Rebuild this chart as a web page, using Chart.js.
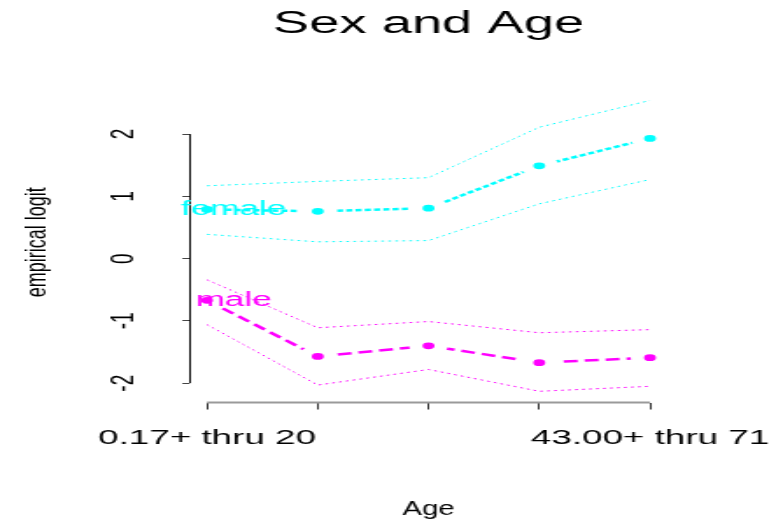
<!DOCTYPE html>
<html>
<head>
<meta charset="utf-8">
<title>Sex and Age</title>
<script src="https://cdn.jsdelivr.net/npm/chart.js@4/dist/chart.umd.min.js"></script>
<style>
  html, body { margin: 0; padding: 0; background: #fff; overflow: hidden; }
  canvas { display: block; }
</style>
</head>
<body>
<canvas id="chart" width="439" height="519" style="width:769px;height:519px"></canvas>
<script>
// ---- data -------------------------------------------------------------
const agePositions  = [1, 2, 3, 4, 5];
const ageTickLabels = ["0.17+ thru 20", "", "", "", "43.00+ thru 71"];
const yTicks        = [-2, -1, 0, 1, 2];

const female      = [0.79, 0.76, 0.81, 1.49, 1.93];
const femaleUpper = [1.17, 1.24, 1.30, 2.11, 2.54];
const femaleLower = [0.39, 0.27, 0.29, 0.88, 1.27];

const male      = [-0.67, -1.57, -1.40, -1.67, -1.59];
const maleUpper = [-0.34, -1.11, -1.01, -1.19, -1.14];
const maleLower = [-1.06, -2.03, -1.78, -2.13, -2.05];

const seriesNames = ["female", "male"];
const labelAt = 1.24;   // x position (axis units) of the series names
const xTitle = "Age";
const yTitle = "empirical logit";

// ---- look -------------------------------------------------------------
const CYAN = "#00ffff";
const MAGENTA = "#ff00ff";
const S = 769 / 439;            // the canvas is drawn narrow and shown wide
const px = v => v / S;          // page pixels -> canvas pixels (horizontal)
const FONT = '"Liberation Sans", Arial, Helvetica, sans-serif';

Chart.defaults.font.family = FONT;
Chart.defaults.color = "#000";

const pts = vals => vals.map((v, i) => ({ x: agePositions[i], y: v }));

function band(vals, color) {
  return {
    data: pts(vals), borderColor: color, borderWidth: 1,
    borderDash: [1.5, 2.5], pointRadius: 0, pointHoverRadius: 0,
    fill: false, tension: 0
  };
}
function centre(vals, color, dash) {
  return {
    data: pts(vals), borderColor: color, borderWidth: 2.5, borderDash: dash,
    pointStyle: "circle", pointRadius: 7.2, pointHoverRadius: 7.2,
    pointBorderWidth: 7.6, pointHoverBorderWidth: 7.6,
    pointBackgroundColor: color, pointBorderColor: "#fff",
    fill: false, tension: 0
  };
}

// axis titles use a milder horizontal stretch than the canvas as a whole
function stretchedText(ctx, text, x, y, size, widen, rotate) {
  ctx.save();
  ctx.translate(x, y);
  ctx.scale(widen / S, 1);
  if (rotate) ctx.rotate(-Math.PI / 2);
  ctx.font = size + "px " + FONT;
  ctx.fillStyle = "#000";
  ctx.textAlign = "center";
  ctx.textBaseline = rotate ? "middle" : "alphabetic";
  ctx.fillText(text, 0, 0);
  ctx.restore();
}

const overlay = {
  id: "overlay",
  afterDatasetsDraw(chart) {
    const { ctx, chartArea: a, scales: { x, y } } = chart;
    ctx.save();
    // axis lines run from the first to the last tick
    const ax = Math.round(a.left) + 0.5;
    ctx.strokeStyle = "#000";
    ctx.lineWidth = 1;
    ctx.beginPath();
    ctx.moveTo(ax, y.getPixelForValue(yTicks[yTicks.length - 1]));
    ctx.lineTo(ax, y.getPixelForValue(yTicks[0]));
    ctx.stroke();
    ctx.strokeStyle = "#9a9a9a";
    ctx.lineWidth = 2;
    ctx.beginPath();
    ctx.moveTo(x.getPixelForValue(agePositions[0]), a.bottom);
    ctx.lineTo(x.getPixelForValue(agePositions[agePositions.length - 1]), a.bottom);
    ctx.stroke();
    // series names beside the first point of each curve
    ctx.font = "20px " + FONT;
    ctx.textAlign = "center";
    ctx.textBaseline = "middle";
    [[female, CYAN], [male, MAGENTA]].forEach(([vals, col], i) => {
      ctx.fillStyle = col;
      ctx.fillText(seriesNames[i], x.getPixelForValue(labelAt), y.getPixelForValue(vals[0]));
    });
    ctx.restore();
  },
  afterDraw(chart) {
    const { ctx, chartArea: a } = chart;
    stretchedText(ctx, yTitle, px(37), (a.top + a.bottom) / 2 - 3, 18, 1.6, true);
    stretchedText(ctx, xTitle, (a.left + a.right) / 2, 514.5, 21, 1.39, false);
  }
};

const titleFont = 31;
new Chart(document.getElementById("chart"), {
  type: "line",
  data: {
    datasets: [
      centre(female, CYAN, [3.5, 1.8]),
      centre(male, MAGENTA, [8, 4]),
      band(femaleUpper, CYAN),
      band(femaleLower, CYAN),
      band(maleUpper, MAGENTA),
      band(maleLower, MAGENTA)
    ]
  },
  options: {
    responsive: false,
    animation: false,
    devicePixelRatio: 1,
    events: [],
    layout: { padding: { left: 0, right: 439 - px(667.7), top: 0, bottom: 0 } },
    plugins: {
      legend: { display: false },
      tooltip: { enabled: false },
      title: {
        display: true, text: "Sex and Age", color: "#000", fullSize: false,
        font: { size: titleFont, weight: "normal" },
        padding: { top: 5.7, bottom: 88 - 5.7 - titleFont * 1.2 }
      }
    },
    scales: {
      x: {
        type: "linear", min: 0.84, max: 5.16,
        afterBuildTicks: s => { s.ticks = agePositions.map(v => ({ value: v })); },
        ticks: {
          autoSkip: false, minRotation: 0, maxRotation: 0, padding: 16,
          color: "#000", font: { size: 21 },
          callback: (v, i) => ageTickLabels[i]
        },
        grid: { drawOnChartArea: false, drawTicks: true, tickLength: 7, color: "#333", lineWidth: 1 },
        border: { display: false },
        afterFit: s => { s.height = 519 - 402.5; s.paddingLeft = 0; s.paddingRight = 0; }
      },
      y: {
        type: "linear", min: -2.31, max: 2.74,
        afterBuildTicks: s => { s.ticks = yTicks.map(v => ({ value: v })); },
        ticks: {
          minRotation: 90, maxRotation: 90, crossAlign: "center", padding: 25,
          color: "#000", font: { size: 19 },
          callback: v => String(v)
        },
        grid: { drawOnChartArea: false, drawTicks: true, tickLength: 4, color: "#444", lineWidth: 1 },
        border: { display: false },
        afterFit: s => { s.width = px(189.3); s.paddingTop = 0; s.paddingBottom = 0; }
      }
    }
  },
  plugins: [overlay]
});
</script>
</body>
</html>
